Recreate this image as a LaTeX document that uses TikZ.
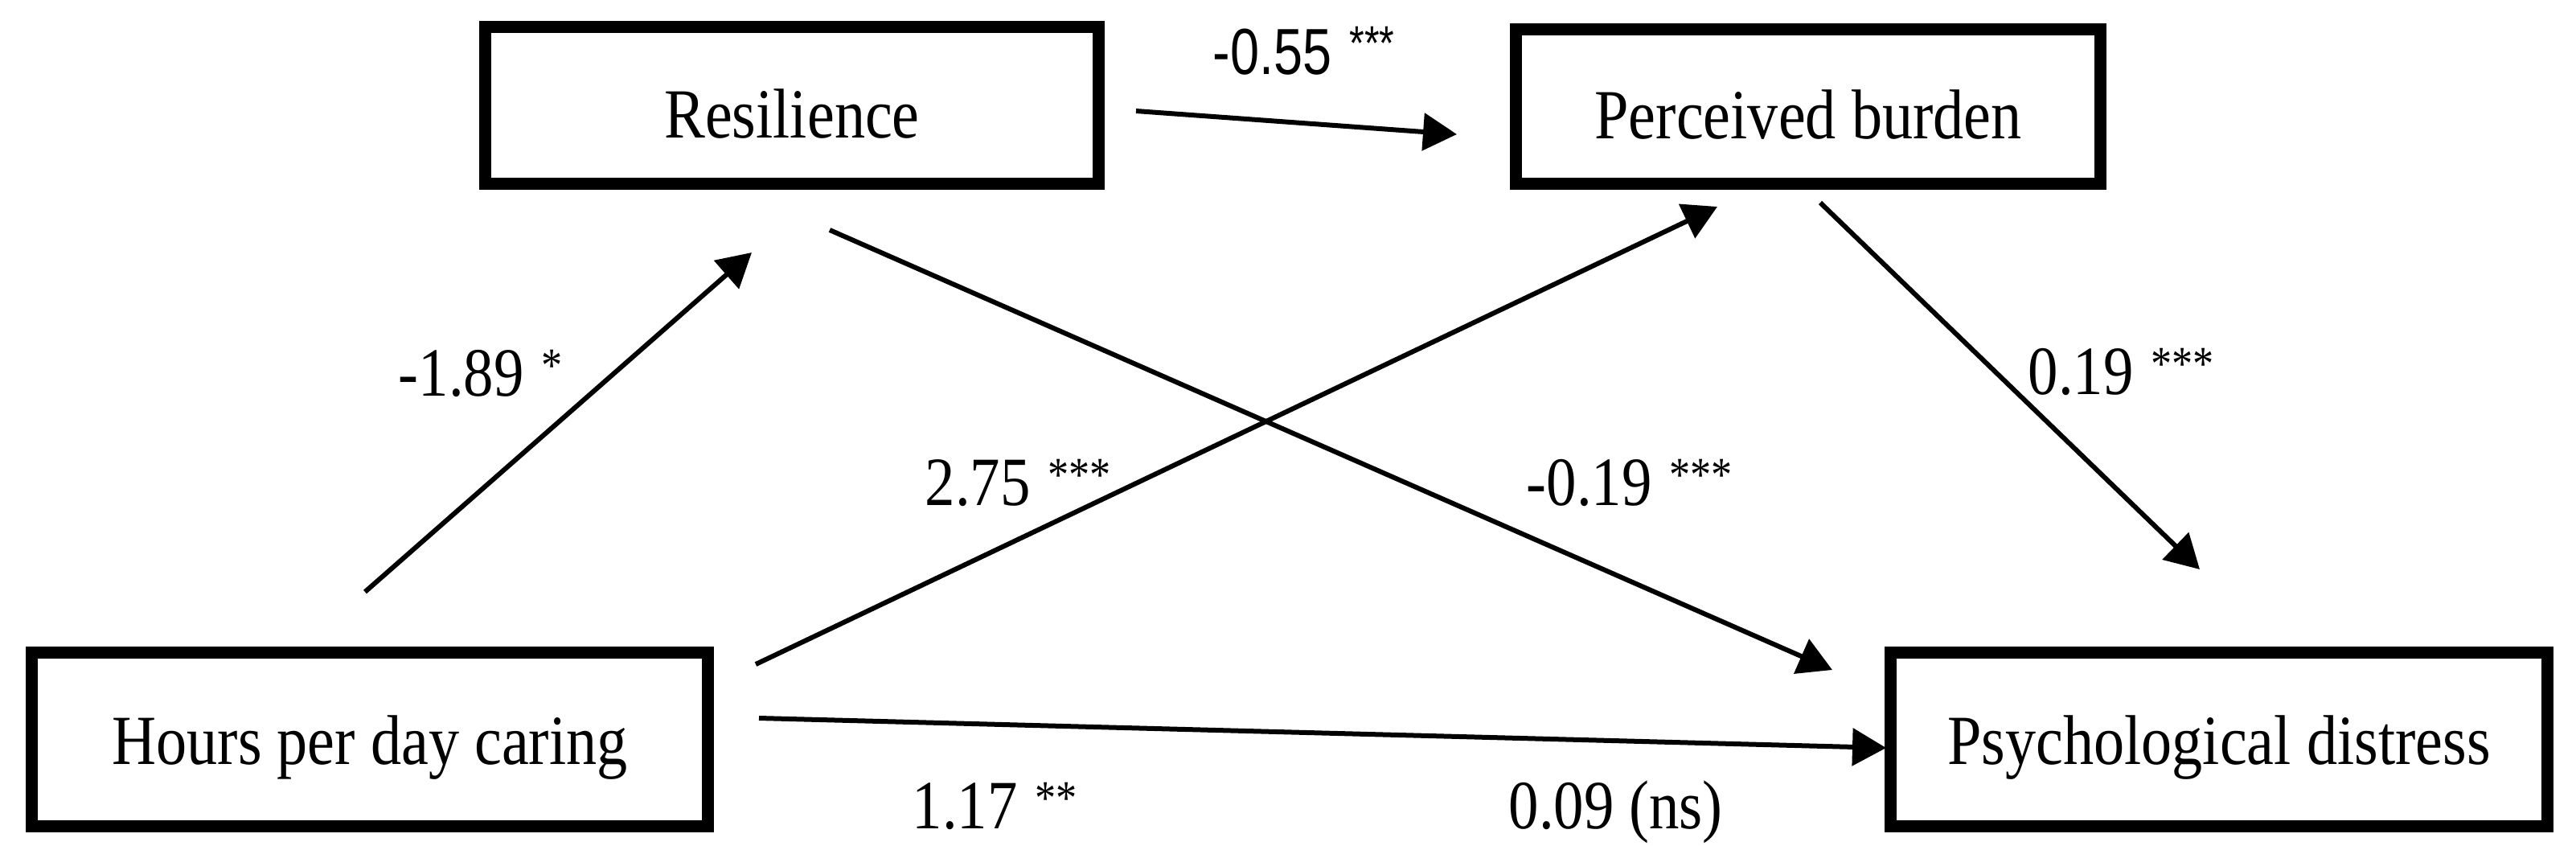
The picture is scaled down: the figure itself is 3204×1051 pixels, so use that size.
\documentclass[tikz,border=0pt]{standalone}
\usepackage{fontspec}
\setmainfont{Liberation Serif}[FakeStretch=0.87]
\newfontfamily\labsans{Liberation Sans}[FakeStretch=0.8]
\usetikzlibrary{arrows.meta}
\newcommand\sigstars[1]{\hspace{5.5pt}\raisebox{4.4pt}{\fontsize{15}{15}\selectfont #1}}
\begin{document}
\begin{tikzpicture}[x=0.25pt,y=-0.25pt,
  box/.style={draw, line width=3.75pt, inner sep=0pt, text height=20pt, text depth=0pt,
    font=\fontsize{21.9}{24}\selectfont},
  conn/.style={line width=1.5pt, -{Triangle[length=10.5pt,width=11.5pt]}},
  lab/.style={anchor=base west, inner sep=0pt, font=\fontsize{21.5}{24}\selectfont}]
\useasboundingbox (0,0) rectangle (3204,1051);
% boxes
\node[box, minimum width=190.75pt, minimum height=48.75pt] (res) at (985,131) {Resilience};
\node[box, minimum width=181.75pt, minimum height=48pt] (pb) at (2249,132) {Perceived burden};
\node[box, minimum width=210.25pt, minimum height=54pt, text height=15.25pt] (hrs) at (460,919.5) {Hours per day caring};
\node[box, minimum width=204.25pt, minimum height=54pt, text height=15.25pt] (pd) at (2760,919.5) {Psychological distress};
% connector ends
\coordinate (hr-s) at (454,736);  \coordinate (hr-e) at (935,314);
\coordinate (rp-s) at (1413,138); \coordinate (rp-e) at (1812,167);
\coordinate (rd-s) at (1032,286); \coordinate (rd-e) at (2279,833);
\coordinate (hp-s) at (940,826);  \coordinate (hp-e) at (2136,257);
\coordinate (pd-s) at (2264,252); \coordinate (pd-e) at (2736,708);
\coordinate (hd-s) at (944,893);  \coordinate (hd-e) at (2346,930);
% connectors
\draw[conn] (hr-s) -- (hr-e);
\draw[conn] (rp-s) -- (rp-e);
\draw[conn] (rd-s) -- (rd-e);
\draw[conn] (hp-s) -- (hp-e);
\draw[conn] (pd-s) -- (pd-e);
\draw[conn] (hd-s) -- (hd-e);
% labels
\node[lab, font=\labsans\fontsize{20.25}{24}\selectfont] (l055) at (1508,92) {-0.55\sigstars{***}};
\node[lab] (l189) at (495,492) {-1.89\sigstars{*}};
\node[lab] (l275) at (1150,628) {2.75\sigstars{***}};
\node[lab] (l019n) at (1898,628) {-0.19\sigstars{***}};
\node[lab] (l019) at (2522,490) {0.19\sigstars{***}};
\node[lab] (l117) at (1134,1030) {1.17\sigstars{**}};
\node[lab] (l009) at (1876,1030) {0.09 (ns)};
\end{tikzpicture}
\end{document}
